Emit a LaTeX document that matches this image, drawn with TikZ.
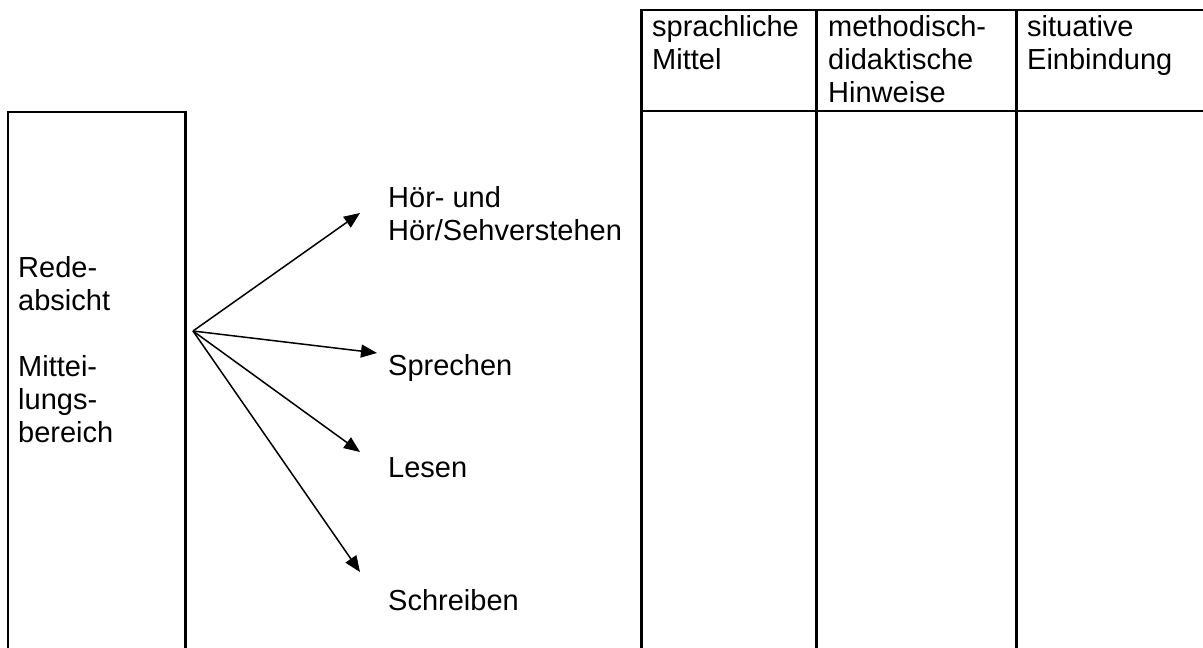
\documentclass[tikz,border=0pt]{standalone}
\usepackage{fontspec}
\setmainfont{Liberation Sans}
\usetikzlibrary{arrows.meta}
\tikzset{
  frame/.style={line width=2.2pt, line cap=rect},
  conn/.style={line width=1.5pt, -{Triangle[length=16pt,width=13pt]}},
  lbl/.style={anchor=base west, inner sep=0pt, align=left,
    font=\fontsize{29}{33}\selectfont}
}
\begin{document}
\begin{tikzpicture}[x=1pt,y=-1pt]
\useasboundingbox (0,0) rectangle (1203,648);
\fill[white] (0,0) rectangle (1203,648);
\begin{scope}
\clip (0,0) rectangle (1203,648);
% left box (open at bottom)
\draw[frame] (8,660) -- (8,112) -- (185.5,112) -- (185.5,660);
% table
\draw[frame] (641.5,660) -- (641.5,10) -- (1215,10);
\draw[frame] (641.5,111) -- (1215,111);
\draw[frame] (816.5,10) -- (816.5,660);
\draw[frame] (1016.5,10) -- (1016.5,660);
\end{scope}

% texts (anchor = baseline of the last line)
\node[lbl] (ra) at (18,442) {Rede-\\absicht\\[33pt]Mittei-\\lungs-\\bereich};
\node[lbl] (hoer) at (388,240) {Hör- und\\Hör/Sehverstehen};
\node[lbl] (spr) at (388,375) {Sprechen};
\node[lbl] (les) at (388,477) {Lesen};
\node[lbl] (schr) at (388,610) {Schreiben};
\node[lbl] (h1) at (652,69) {sprachliche\\Mittel};
\node[lbl] (h2) at (828,102) {methodisch-\\didaktische\\Hinweise};
\node[lbl] (h3) at (1027,69) {situative\\Einbindung};

% arrows
\coordinate (o) at (193,331);
\coordinate (t1) at (360,213);
\coordinate (t2) at (377,353);
\coordinate (t3) at (360,452);
\coordinate (t4) at (360,572);
\draw[conn] (o) -- (t1);
\draw[conn] (o) -- (t2);
\draw[conn] (o) -- (t3);
\draw[conn] (o) -- (t4);
\end{tikzpicture}
\end{document}
